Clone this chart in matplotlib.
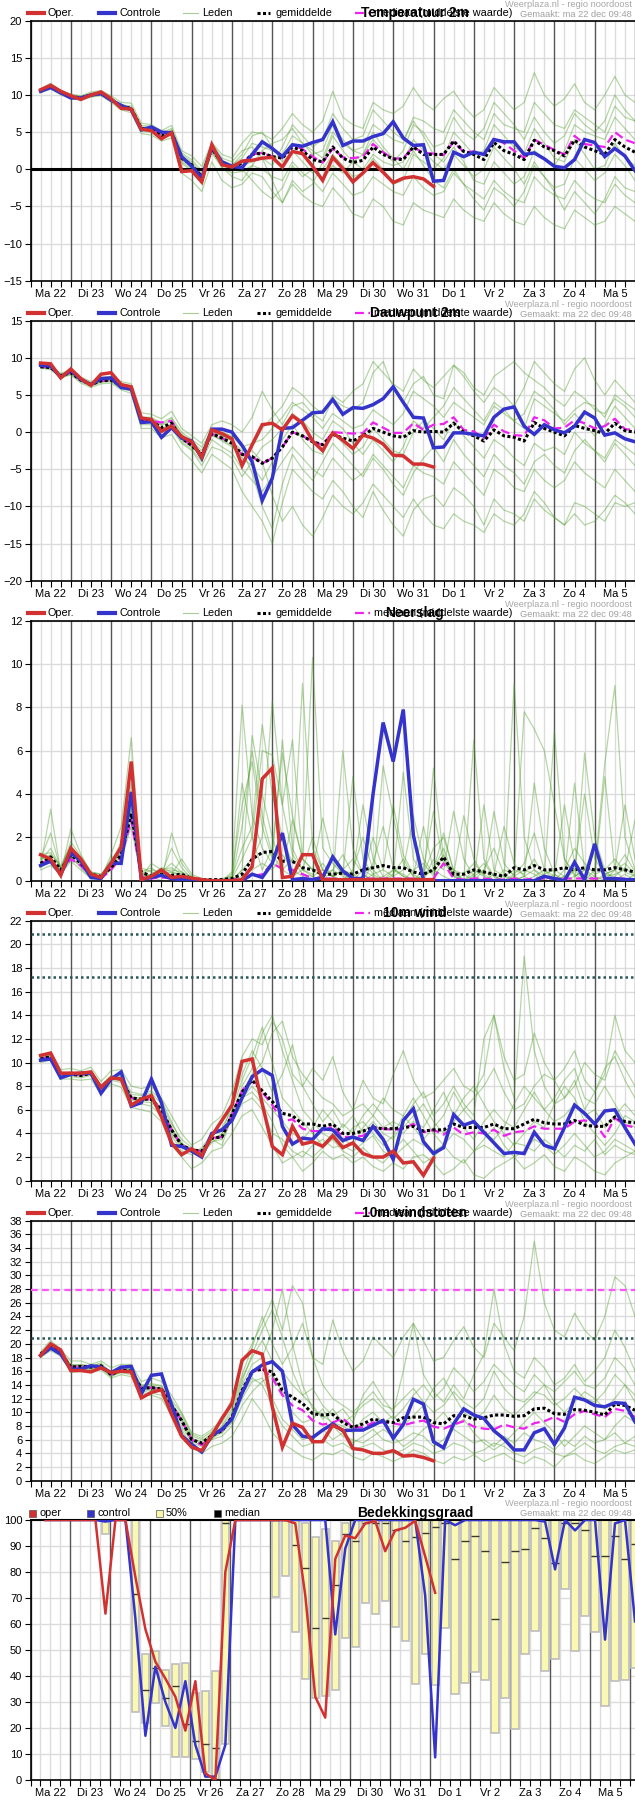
"""
    Weerplaza pluim (ensemble) voor regio noordoost, 22 dec 09:48
"""

import matplotlib
matplotlib.use("Agg")
import matplotlib.pyplot as plt
from matplotlib.lines import Line2D
from matplotlib.patches import Rectangle
import numpy as np


W, H = 635, 1800
plt.rcParams['font.family'] = ['Liberation Sans', 'DejaVu Sans']

DAYS = ['Ma 22', 'Di 23', 'Wo 24', 'Do 25', 'Vr 26', 'Za 27', 'Zo 28', 'Ma 29',
        'Di 30', 'Wo 31', 'Do 1', 'Vr 2', 'Za 3', 'Zo 4', 'Ma 5']

# uren sinds ma 22 00:00, stap 6 uur
T = 6 + 6 * np.arange(60)
T_CLOUD = 9 + 6 * np.arange(60)

# ---------------- temperatuur 2m
temp_oper = [10.7, 11.3, 10.5, 9.9, 9.4, 10.0, 10.4, 9.5, 8.2, 8.1, 5.4, 5.2, 4.1, 4.9, -0.3, -0.2, -1.7, 3.3, 0.6, 0.3,
             1.1, 1.2, 1.5, 1.6, 0.3, 2.4, 2.1, 0.4, -1.5, 1.6, 0.1, -1.7, -0.5, 0.9, -0.4, -1.8, -1.2, -1.0, -1.3, -2.3]
temp_ctrl = [10.5, 11.0, 10.3, 9.6, 9.6, 10.0, 10.2, 9.3, 8.6, 8.0, 5.3, 5.7, 5.0, 4.9, 1.7, 0.4, -1.2, 3.0, 1.0, 0.4,
             0.2, 2.0, 3.7, 2.8, 1.7, 3.3, 3.1, 3.6, 4.0, 6.4, 3.2, 3.8, 3.8, 4.4, 4.8, 6.4, 4.2, 3.2, 3.3, -1.6,
             -1.5, 2.3, 1.7, 2.3, 2.0, 4.0, 3.7, 3.7, 2.0, 2.2, 1.4, 0.4, 0.2, 1.3, 4.0, 3.6, 1.7, 2.8, 1.8, -0.2]
temp_mean = [10.5, 11.1, 10.3, 9.8, 9.6, 10.0, 10.2, 9.4, 8.5, 8.2, 5.5, 5.4, 4.5, 5.0, 1.5, 0.6, -1.0, 2.8, 0.8, 0.3,
             0.8, 2.0, 2.2, 1.7, 1.5, 3.0, 2.5, 1.3, 1.0, 3.0, 1.5, 0.9, 1.2, 3.0, 2.0, 1.4, 1.3, 3.0, 2.0, 2.0,
             2.0, 3.8, 2.4, 2.0, 1.3, 3.6, 2.5, 2.0, 1.3, 3.9, 3.0, 2.5, 1.8, 3.9, 3.0, 2.5, 2.0, 4.0, 3.0, 2.3]
temp_median = [10.5, 11.1, 10.3, 9.8, 9.6, 10.0, 10.2, 9.4, 8.5, 8.2, 5.5, 5.4, 4.5, 5.0, 1.5, 0.6, -1.0, 2.8, 0.8, 0.3,
               0.8, 2.0, 2.2, 1.7, 1.5, 3.3, 2.7, 1.7, 0.9, 2.8, 1.6, 1.5, 1.7, 3.4, 2.3, 1.4, 1.5, 3.0, 2.2, 2.1,
               1.9, 3.7, 2.3, 2.4, 2.0, 4.2, 3.5, 2.5, 1.5, 4.0, 3.3, 2.6, 2.0, 4.5, 3.4, 3.2, 3.0, 5.0, 4.0, 3.5]
temp_leden = [
    [10.8, 11.6, 10.6, 10.1, 9.9, 10.4, 10.6, 9.9, 9.0, 8.9, 6.2, 6.0, 5.2, 5.9, 2.5, 1.8, 0.4, 3.6, 2.0, 1.5,
     3.5, 5.0, 4.8, 4.0, 5.5, 7.5, 6.0, 5.0, 6.5, 10.5, 7.0, 6.0, 5.5, 9.0, 8.0, 7.5, 8.5, 11.0, 9.0, 8.0,
     9.5, 10.5, 8.5, 7.0, 8.0, 11.0, 9.5, 8.0, 9.0, 13.0, 10.0, 8.5, 9.5, 11.5, 9.0, 8.0, 10.0, 12.5, 10.0, 9.0],
    [10.3, 10.8, 10.0, 9.5, 9.3, 9.7, 9.9, 9.0, 8.0, 7.6, 4.8, 4.6, 3.8, 4.2, -0.5, -1.5, -3.0, 1.0, -1.5, -2.5,
     -2.0, -0.5, -1.0, -3.0, -4.5, -2.0, -3.5, -4.5, -5.0, -2.5, -4.0, -6.0, -6.5, -4.0, -5.0, -7.0, -7.5, -4.5, -5.5, -6.0,
     -6.5, -4.0, -5.5, -6.5, -7.0, -4.5, -6.0, -7.0, -7.5, -5.0, -6.5, -7.5, -8.0, -5.5, -6.5, -7.5, -7.0, -5.0, -6.0, -7.0],
    [10.6, 11.3, 10.4, 9.9, 9.7, 10.2, 10.4, 9.6, 8.7, 8.5, 5.9, 5.8, 4.9, 5.5, 2.0, 1.0, -0.5, 3.3, 1.2, 0.6,
     1.5, 3.5, 3.0, 2.5, 2.0, 4.5, 3.5, 2.5, 1.5, 5.0, 3.5, 2.5, 3.0, 6.0, 5.0, 4.0, 3.5, 7.0, 6.5, 5.5,
     5.0, 8.0, 6.5, 5.0, 4.0, 7.5, 6.0, 5.5, 5.0, 9.0, 7.5, 6.0, 5.5, 8.0, 7.0, 6.0, 5.0, 8.5, 7.0, 6.5],
    [10.4, 11.0, 10.2, 9.7, 9.5, 9.8, 10.0, 9.2, 8.3, 7.9, 5.1, 5.0, 4.1, 4.6, 0.8, -0.2, -1.8, 2.2, 0.2, -0.5,
     -0.3, 0.5, 0.0, -1.0, -1.5, 1.0, -0.5, -1.5, -3.0, -0.5, -2.0, -3.5, -3.0, -1.0, -2.0, -3.0, -3.5, -1.0, -2.5, -3.5,
     -3.0, -0.5, -2.0, -3.0, -4.0, -1.5, -3.0, -4.0, -4.5, -1.0, -2.5, -3.5, -4.0, -1.5, -3.0, -4.0, -4.5, -2.0, -3.5, -4.5],
    [10.7, 11.4, 10.5, 10.0, 9.8, 10.2, 10.3, 9.5, 8.6, 8.3, 5.6, 5.5, 4.6, 5.2, 1.6, 0.8, -0.8, 3.0, 1.0, 0.5,
     2.0, 4.5, 5.0, 3.0, 1.0, 2.5, 1.0, -0.5, 0.0, 2.0, 0.5, -1.0, -0.5, 1.5, 0.0, -2.0, -1.5, 2.0, 1.0, 0.0,
     1.5, 5.0, 3.5, 2.0, 2.5, 6.0, 4.5, 3.0, 2.0, 5.5, 3.5, 1.5, 1.0, 4.0, 2.0, 0.0, 0.5, 3.5, 1.5, 0.5],
    [10.5, 11.0, 10.3, 9.8, 9.6, 10.1, 10.3, 9.4, 8.4, 8.1, 5.3, 5.2, 4.4, 4.9, 1.2, 0.3, -1.3, 2.6, 0.5, 0.0,
     0.5, 1.0, 1.5, 0.5, 3.0, 6.0, 4.5, 3.0, 4.0, 7.5, 5.5, 4.0, 4.5, 8.0, 6.5, 5.0, 4.0, 6.5, 4.5, 2.0,
     1.0, 3.0, 1.0, -1.5, -2.0, 1.0, -0.5, -2.0, -1.0, 2.5, 1.5, 0.5, 2.5, 6.0, 5.0, 4.5, 4.0, 7.0, 5.5, 4.0],
    [10.6, 11.2, 10.4, 9.9, 9.7, 10.1, 10.3, 9.5, 8.6, 8.3, 5.7, 5.6, 4.7, 5.3, 2.2, 1.3, -0.2, 3.5, 1.5, 1.0,
     2.5, 3.0, 1.5, -1.5, -4.5, -1.5, -3.0, -2.0, 1.0, 4.5, 2.5, 1.0, 2.0, 5.0, 3.0, 1.5, 0.0, 2.5, 0.5, -1.5,
     -2.5, 0.0, -2.0, -4.0, -5.5, -2.5, -3.5, -5.0, -3.0, 0.5, -1.0, -3.0, -5.5, -3.0, -4.5, -6.0, -4.0, -1.0, -2.5, -3.0],
    [10.4, 11.1, 10.2, 9.7, 9.5, 9.9, 10.1, 9.3, 8.4, 8.0, 5.4, 5.3, 4.3, 4.8, 1.0, 0.0, -2.0, 2.4, 0.3, -1.0,
     -1.5, 0.5, 2.5, 3.5, 4.0, 5.5, 3.5, 2.0, 2.5, 6.0, 4.0, 2.5, 2.0, 4.0, 2.5, 1.0, 2.5, 6.0, 5.0, 3.0,
     3.5, 7.0, 5.0, 4.0, 5.5, 9.0, 7.5, 6.0, 4.0, 7.0, 5.0, 3.5, 4.5, 7.5, 6.0, 5.0, 6.5, 10.0, 8.0, 6.5],
    [10.5, 11.0, 10.3, 9.8, 9.6, 10.0, 10.2, 9.4, 8.5, 8.2, 5.5, 5.4, 4.5, 5.0, 1.4, 0.5, -1.2, 2.7, 0.7, 0.2,
     0.0, -1.5, -3.0, -4.0, -2.5, 0.5, -1.0, 0.0, -1.5, 0.5, -0.5, 1.0, 0.0, 2.0, 1.0, 0.5, 1.0, 4.0, 2.5, 1.0,
     0.0, 2.0, 0.5, -1.0, 0.0, 3.0, 1.5, 0.0, -2.0, 1.0, -1.0, -2.5, -2.0, 1.5, 0.0, -1.5, -0.5, 2.0, 0.5, -1.5],
]

# ---------------- dauwpunt 2m
dew_oper = [9.3, 9.2, 7.3, 8.5, 7.2, 6.3, 7.8, 8.0, 6.4, 6.1, 1.9, 1.7, 0.1, 0.8, -0.6, -1.3, -3.4, 0.3, -0.2, -0.9,
            -4.5, -1.7, 1.0, 1.2, 0.3, 2.2, 1.2, -1.2, -2.5, -0.1, -1.1, -2.2, -0.4, -0.8, -1.6, -3.1, -3.2, -4.3, -4.3, -4.7]
dew_ctrl = [9.0, 8.9, 7.4, 8.3, 7.1, 6.4, 7.2, 7.3, 6.0, 5.8, 1.3, 1.4, -0.7, 0.6, -0.8, -1.2, -3.5, 0.4, 0.4, 0.0,
            -1.8, -4.0, -9.2, -6.2, 0.5, 0.6, 1.6, 2.6, 2.7, 4.4, 2.4, 3.3, 3.2, 3.7, 4.5, 6.1, 4.0, 2.0, 1.9, -2.1,
            -2.0, -0.1, -0.1, -0.3, -0.5, 2.0, 3.1, 3.4, 0.8, -0.3, 1.0, 0.3, -0.1, 0.8, 2.7, 1.9, -0.4, -0.1, -0.9, -1.3]
dew_mean = [8.8, 8.7, 7.6, 8.0, 7.0, 6.4, 6.9, 7.0, 6.2, 5.8, 1.6, 1.5, 0.6, 1.2, -0.8, -1.8, -3.0, -0.2, -0.8, -1.5,
            -3.0, -3.3, -4.2, -3.5, -2.0, 0.0, -0.5, -1.3, -1.7, -0.3, -0.8, -1.2, -0.5, 0.5, 0.0, -0.5, -0.7, 0.2, 0.0, 0.1,
            0.0, 1.2, 0.0, -0.5, -1.2, 0.3, -0.5, -0.7, -1.2, 1.3, 0.5, 0.0, -0.5, 0.9, 0.5, 0.2, -0.2, 1.2, 0.2, 0.0]
dew_median = [8.8, 8.7, 7.6, 8.0, 7.0, 6.4, 6.9, 7.0, 6.2, 5.8, 1.6, 1.5, 1.3, 1.5, -0.8, -1.8, -3.0, -0.2, -0.8, -1.5,
              -3.0, -3.3, -4.2, -3.5, -2.0, 0.0, -0.5, -1.3, -1.7, 0.0, -0.1, -0.2, -0.1, 1.3, 0.6, -0.1, -0.1, 1.2, 0.3, 1.0,
              1.1, 2.0, 0.3, 0.1, -0.8, 1.0, 0.1, -0.4, -0.5, 2.0, 1.6, 0.5, 0.6, 1.6, 1.2, 0.5, 0.8, 1.8, 0.4, 0.3]
dew_leden = [
    [9.1, 9.0, 7.9, 8.4, 7.4, 6.8, 7.4, 7.5, 6.8, 6.5, 2.6, 2.4, 1.8, 2.8, 0.5, -0.5, -1.5, 1.0, 1.5, 1.0,
     0.0, 2.0, 5.5, 3.0, 1.0, 3.5, 4.0, 2.5, 1.5, 4.5, 3.5, 3.0, 4.0, 8.0, 9.5, 6.0, 4.0, 6.5, 7.5, 5.0,
     4.5, 9.0, 7.5, 5.5, 4.0, 6.0, 5.0, 3.5, 6.0, 9.5, 8.0, 6.5, 5.5, 8.5, 10.0, 7.0, 5.0, 7.0, 5.5, 4.0],
    [8.6, 8.4, 7.3, 7.7, 6.6, 6.0, 6.5, 6.6, 5.7, 5.2, 0.5, 0.5, -0.8, -0.3, -2.5, -3.8, -5.5, -3.0, -4.0, -5.0,
     -8.0, -10.0, -12.0, -15.0, -9.5, -5.0, -6.5, -8.0, -9.0, -6.5, -8.0, -10.0, -11.5, -8.0, -10.5, -12.5, -14.0, -10.5, -9.0, -8.5,
     -10.0, -7.5, -8.5, -10.0, -12.5, -9.0, -10.5, -11.0, -12.0, -9.0, -10.5, -11.5, -12.5, -9.5, -10.0, -11.0, -12.0, -9.5, -10.0, -9.5],
    [8.9, 8.8, 7.7, 8.1, 7.1, 6.5, 7.0, 7.1, 6.3, 5.9, 1.8, 1.7, 0.9, 1.5, -0.3, -1.2, -2.5, 0.5, 0.0, -0.5,
     -2.0, -1.5, -1.0, 0.5, 2.0, 4.0, 3.0, 2.0, 0.5, 2.5, 1.5, 0.5, 1.0, 3.0, 2.0, 1.0, 2.5, 5.5, 4.5, 3.5,
     2.0, 4.0, 3.0, 2.0, 1.0, 3.5, 2.5, 1.5, 0.5, 4.5, 3.5, 2.5, 1.5, 3.0, 4.0, 3.5, 2.0, 5.0, 4.0, 3.0],
    [8.7, 8.6, 7.5, 7.9, 6.9, 6.3, 6.8, 6.9, 6.0, 5.6, 1.2, 1.2, 0.2, 0.8, -1.3, -2.3, -4.0, -1.0, -2.0, -2.8,
     -5.0, -6.5, -8.0, -6.0, -4.0, -2.0, -3.5, -5.0, -6.0, -3.5, -5.0, -6.5, -5.5, -3.0, -4.5, -6.0, -7.5, -4.5, -5.5, -6.0,
     -7.0, -4.0, -5.5, -7.0, -8.5, -5.0, -6.0, -7.5, -8.0, -5.0, -6.5, -7.5, -6.5, -4.0, -5.5, -6.5, -7.5, -5.0, -6.5, -8.0],
    [9.0, 8.9, 7.8, 8.2, 7.2, 6.6, 7.2, 7.3, 6.5, 6.1, 2.0, 2.0, 1.2, 2.0, 0.0, -1.0, -2.0, 0.3, -0.5, -1.0,
     -3.5, -4.5, -6.5, -4.0, -1.0, 1.0, -1.0, -2.5, -3.0, 0.0, -1.5, -3.0, -2.0, 0.5, -1.0, -2.5, -3.0, 0.0, 1.5, 0.5,
     -1.0, 1.5, -0.5, -2.0, -3.5, -1.0, -2.0, -3.5, -4.5, -1.5, -2.5, -2.0, -3.0, 0.0, -1.5, -2.5, -3.5, -1.0, -2.0, -3.0],
    [8.8, 8.7, 7.6, 8.0, 7.0, 6.4, 6.9, 7.0, 6.2, 5.8, 1.5, 1.4, 0.5, 1.0, -1.0, -2.0, -3.3, -0.5, -1.0, -1.8,
     -4.0, -2.0, 0.5, 2.0, 3.5, 6.0, 5.0, 3.5, 2.5, 5.0, 4.0, 5.5, 6.5, 9.5, 8.0, 6.5, 5.5, 8.5, 7.0, 6.0,
     7.5, 9.0, 8.0, 6.0, 5.0, 7.5, 8.5, 9.5, 8.0, 7.0, 6.0, 4.5, 3.5, 5.5, 4.5, 3.0, 2.5, 4.5, 3.5, 2.0],
    [9.0, 8.8, 7.7, 8.1, 7.1, 6.5, 7.0, 7.2, 6.3, 6.0, 1.9, 1.8, 1.0, 1.8, -0.5, -1.5, -2.8, 0.0, -0.5, -1.2,
     -2.5, -5.5, -10.0, -13.0, -7.0, -3.0, -5.0, -6.5, -4.0, -1.5, -3.0, -4.5, -6.0, -3.5, -5.0, -7.0, -8.5, -5.5, -3.5, -2.0,
     -4.0, -1.0, -3.0, -4.5, -6.0, -3.0, -4.5, -5.5, -7.0, -4.0, -3.0, -4.5, -5.5, -2.5, -1.0, -2.5, -4.0, -1.5, -3.0, -4.5],
    [8.7, 8.5, 7.4, 7.8, 6.8, 6.2, 6.7, 6.8, 5.9, 5.5, 1.0, 1.0, 0.0, 0.5, -1.5, -2.5, -4.5, -2.0, -2.5, -3.5,
     -6.0, -4.0, -2.0, -1.0, 0.5, 2.5, 1.5, 0.0, -1.0, 1.5, 0.5, -1.5, -3.0, -1.0, -2.5, -4.0, -2.0, 1.5, 0.5, 2.0,
     3.5, 6.0, 4.5, 3.0, 1.5, 4.0, 3.0, 1.5, 2.5, 5.5, 4.5, 3.0, 1.0, 2.5, 1.0, -0.5, 1.0, 3.5, 2.0, 0.5],
    [8.9, 8.7, 7.6, 8.0, 7.0, 6.4, 6.9, 7.0, 6.1, 5.8, 1.4, 1.3, 0.4, 1.1, -0.9, -2.0, -3.2, -0.3, -1.2, -2.0,
     -3.0, -2.5, -4.0, -8.5, -12.0, -10.0, -12.5, -14.0, -11.5, -8.5, -10.0, -11.0, -9.5, -7.0, -8.5, -10.0, -11.5, -9.0, -11.0, -12.5,
     -13.0, -11.0, -12.0, -12.5, -13.5, -11.0, -12.0, -12.5, -11.0, -8.0, -9.5, -11.5, -12.5, -11.0, -12.5, -12.0, -10.5, -8.5, -9.5, -11.0],
]

# ---------------- neerslag
rain_oper = [1.2, 1.0, 0.25, 1.5, 1.0, 0.3, 0.15, 0.8, 1.55, 5.5, 0.05, 0.2, 0.5, 0.15, 0.2, 0.12, 0.05, 0.0, 0.0, 0.0,
             0.05, 0.65, 4.7, 5.2, 0.15, 0.2, 1.2, 1.2, 0.05, 0.05, 0.05, 0.05, 0.05, 0.05, 0.05, 0.05, 0.05, 0.05, 0.05, 0.05]
rain_ctrl = [0.7, 0.9, 0.3, 1.3, 0.9, 0.15, 0.1, 0.8, 0.8, 4.1, 0.05, 0.15, 0.25, 0.1, 0.05, 0.05, 0.0, 0.0, 0.0, 0.0,
             0.0, 0.3, 0.15, 0.8, 2.2, 0.05, 0.1, 0.05, 0.15, 1.1, 0.45, 0.1, 0.1, 4.0, 7.3, 5.5, 7.9, 2.1, 0.05, 0.0,
             0.0, 0.0, 0.0, 0.0, 0.0, 0.0, 0.0, 0.0, 0.0, 0.0, 0.2, 0.1, 0.0, 0.85, 0.05, 1.7, 0.1, 0.1, 0.05, 0.05]
rain_mean = [0.8, 1.1, 0.5, 1.2, 0.8, 0.3, 0.2, 0.6, 1.2, 3.1, 0.4, 0.2, 0.3, 0.25, 0.3, 0.1, 0.05, 0.05, 0.05, 0.1,
             0.3, 1.0, 1.3, 1.35, 0.9, 0.9, 0.6, 0.5, 0.3, 0.3, 0.35, 0.3, 0.5, 0.6, 0.7, 0.6, 0.6, 0.4, 0.3, 0.5,
             1.1, 0.3, 0.3, 0.5, 0.4, 0.3, 0.2, 0.6, 0.5, 0.7, 0.5, 0.5, 0.6, 0.5, 0.6, 0.5, 0.5, 0.6, 0.5, 0.4]
rain_median = [0.8, 1.0, 0.4, 1.0, 0.7, 0.2, 0.1, 0.5, 1.1, 2.8, 0.2, 0.1, 0.15, 0.1, 0.1, 0.05, 0.0, 0.0, 0.0, 0.05,
               0.1, 0.2, 0.3, 0.8, 0.55, 0.5, 0.3, 0.1, 0.1, 0.1, 0.05, 0.05, 0.1, 0.1, 0.1, 0.1, 0.1, 0.1, 0.05, 0.1,
               0.8, 0.1, 0.05, 0.1, 0.1, 0.05, 0.05, 0.1, 0.05, 0.1, 0.1, 0.1, 0.1, 0.1, 0.1, 0.1, 0.1, 0.1, 0.1, 0.05]
rain_leden = [
    [0.9, 1.5, 0.6, 1.4, 0.9, 0.3, 0.2, 0.8, 1.8, 4.0, 0.6, 0.4, 0.3, 1.5, 0.6, 0.1, 0.0, 0.0, 0.0, 0.4,
     8.1, 3.0, 1.5, 0.8, 0.5, 1.0, 0.3, 0.2, 0.0, 0.5, 1.2, 0.3, 0.0, 0.8, 2.5, 0.6, 0.2, 0.0, 0.3, 1.5,
     2.0, 0.5, 0.0, 0.3, 0.8, 0.2, 0.0, 9.1, 2.0, 0.5, 0.2, 0.0, 0.5, 1.5, 0.8, 0.3, 0.5, 1.0, 0.4, 0.2],
    [0.7, 3.3, 0.4, 1.0, 0.7, 0.2, 0.1, 1.2, 2.5, 6.6, 0.2, 0.8, 0.5, 0.6, 0.3, 0.0, 0.0, 0.0, 0.1, 0.2,
     1.5, 2.5, 7.2, 4.0, 2.0, 0.8, 9.1, 1.5, 0.5, 0.2, 0.0, 0.5, 2.0, 0.5, 0.0, 0.2, 5.0, 1.0, 0.3, 0.5,
     1.5, 0.2, 0.0, 6.5, 1.0, 0.2, 0.0, 0.3, 7.8, 7.0, 6.0, 3.5, 1.0, 0.2, 0.5, 1.5, 0.3, 0.5, 1.2, 0.4],
    [1.1, 0.8, 0.3, 2.4, 1.2, 0.4, 0.3, 0.5, 1.0, 3.5, 0.3, 0.2, 0.0, 2.2, 0.8, 0.2, 0.0, 0.0, 0.0, 0.0,
     0.5, 1.0, 2.0, 8.3, 3.5, 6.5, 1.0, 0.5, 0.2, 0.0, 6.0, 1.5, 0.3, 0.0, 5.3, 3.0, 0.8, 0.2, 0.0, 5.2,
     1.0, 0.3, 0.0, 0.2, 0.5, 0.0, 0.2, 0.5, 0.3, 1.0, 0.2, 6.9, 1.0, 0.3, 0.0, 0.5, 5.4, 9.0, 2.0, 0.5],
    [0.6, 1.0, 0.2, 1.1, 0.6, 0.1, 0.1, 0.6, 1.2, 2.8, 0.1, 0.3, 0.6, 0.4, 0.2, 0.1, 0.0, 0.0, 0.0, 0.1,
     2.5, 6.0, 3.0, 1.2, 0.5, 2.8, 1.0, 10.3, 1.5, 0.8, 0.3, 4.8, 1.0, 0.3, 0.0, 0.5, 0.2, 0.0, 0.2, 0.5,
     2.2, 0.4, 0.0, 0.0, 3.5, 0.5, 0.2, 0.0, 0.2, 0.0, 0.3, 0.5, 0.2, 0.0, 5.9, 2.0, 0.5, 0.0, 0.3, 0.0],
    [1.0, 1.2, 0.7, 1.6, 1.0, 0.3, 0.2, 1.0, 1.5, 3.0, 0.4, 0.6, 0.2, 0.3, 1.0, 0.3, 0.1, 0.0, 0.0, 0.0,
     0.2, 0.5, 0.8, 0.5, 1.2, 0.5, 0.2, 0.0, 0.3, 0.5, 0.2, 0.0, 0.0, 0.3, 0.5, 0.2, 0.5, 3.0, 1.0, 0.3,
     1.2, 0.2, 0.0, 0.5, 0.2, 3.2, 0.8, 0.2, 0.0, 0.2, 0.5, 0.0, 0.2, 0.5, 0.0, 0.2, 0.0, 0.5, 3.5, 1.0],
    [0.8, 0.9, 0.5, 1.2, 0.8, 0.2, 0.2, 0.7, 1.4, 3.3, 0.2, 0.2, 0.4, 0.5, 0.4, 0.0, 0.0, 0.0, 0.0, 0.3,
     3.5, 5.5, 2.5, 1.0, 6.5, 1.5, 0.5, 0.3, 0.8, 0.2, 0.5, 0.3, 3.5, 1.0, 0.2, 0.0, 0.0, 0.5, 0.8, 0.2,
     0.8, 0.3, 3.0, 1.0, 0.2, 0.0, 0.0, 0.2, 0.5, 0.3, 0.0, 0.0, 0.2, 4.5, 0.5, 0.0, 0.2, 0.3, 0.5, 2.8],
    [1.0, 2.2, 0.5, 1.8, 1.1, 0.4, 0.3, 0.9, 1.6, 4.5, 0.3, 0.5, 0.4, 0.8, 0.4, 0.2, 0.0, 0.0, 0.0, 0.2,
     4.5, 2.0, 0.5, 1.5, 5.9, 3.0, 1.0, 0.5, 2.9, 1.0, 0.3, 0.0, 0.2, 2.0, 0.5, 3.5, 1.2, 0.3, 0.0, 1.0,
     0.5, 3.2, 1.0, 0.2, 0.0, 0.3, 2.5, 0.8, 0.2, 4.5, 1.5, 0.3, 0.0, 0.5, 4.0, 1.0, 0.3, 0.5, 0.8, 0.3],
    [0.5, 0.7, 0.3, 0.9, 0.5, 0.1, 0.1, 0.5, 1.0, 2.5, 0.1, 0.1, 0.2, 0.2, 0.1, 0.0, 0.0, 0.0, 0.0, 0.0,
     0.5, 6.7, 4.0, 2.0, 0.5, 0.2, 0.5, 2.0, 0.5, 0.2, 0.0, 0.0, 0.5, 0.2, 0.0, 0.3, 1.0, 0.2, 2.5, 0.5,
     0.2, 0.0, 0.3, 0.0, 0.5, 1.5, 0.3, 0.0, 0.2, 0.5, 0.0, 0.3, 0.0, 0.2, 0.5, 0.2, 4.8, 0.5, 0.0, 0.3],
    [1.2, 1.3, 0.6, 1.5, 0.9, 0.3, 0.2, 0.7, 1.3, 3.8, 0.2, 0.3, 0.3, 0.4, 0.3, 0.1, 0.0, 0.0, 0.0, 0.1,
     1.0, 2.0, 6.0, 5.8, 3.5, 1.2, 0.5, 0.2, 0.5, 0.2, 0.5, 1.0, 0.3, 0.0, 0.2, 0.5, 0.3, 0.0, 0.5, 3.2,
     0.8, 0.5, 0.3, 0.8, 0.3, 0.0, 0.5, 0.3, 0.8, 2.2, 0.5, 0.2, 3.5, 0.8, 0.2, 0.0, 0.3, 0.2, 0.6, 0.2],
]

# ---------------- 10m wind
wind_oper = [10.6, 10.8, 9.1, 9.1, 9.1, 9.2, 7.9, 8.7, 8.6, 6.4, 6.9, 7.2, 5.4, 3.2, 2.2, 2.7, 2.1, 3.8, 5.1, 6.4,
             10.1, 10.3, 6.5, 2.9, 2.2, 4.6, 3.1, 3.3, 2.9, 3.8, 2.8, 3.2, 2.3, 2.0, 2.0, 2.5, 1.5, 1.6, 0.45, 1.9]
wind_ctrl = [10.2, 10.3, 8.7, 9.0, 9.1, 9.1, 7.4, 8.6, 9.2, 6.3, 6.6, 8.6, 6.6, 3.0, 2.9, 2.5, 2.0, 4.0, 4.3, 5.1,
             7.0, 8.8, 9.4, 8.9, 4.6, 3.1, 3.6, 3.5, 4.4, 4.3, 3.4, 3.7, 3.4, 4.6, 3.5, 1.8, 5.1, 6.1, 3.3, 2.3,
             2.8, 5.6, 4.7, 5.0, 4.1, 3.2, 2.3, 2.4, 2.3, 4.1, 3.0, 2.7, 4.5, 6.4, 5.7, 4.8, 5.9, 6.0, 4.5, 3.1]
wind_mean = [10.3, 10.5, 9.0, 9.0, 8.9, 9.1, 7.9, 8.7, 8.6, 7.0, 6.9, 6.9, 6.0, 4.3, 3.0, 2.6, 2.5, 3.6, 3.7, 5.6,
             7.5, 8.5, 7.6, 6.7, 5.7, 5.5, 4.8, 4.8, 4.6, 4.8, 4.0, 4.0, 4.2, 4.5, 4.4, 4.4, 4.5, 4.6, 4.2, 4.3,
             4.3, 4.8, 4.5, 4.5, 4.5, 4.8, 4.4, 4.4, 4.8, 5.2, 4.9, 4.8, 4.8, 5.1, 4.7, 4.6, 4.6, 5.4, 5.0, 4.9]
wind_median = [10.3, 10.5, 9.0, 9.0, 8.9, 9.1, 7.9, 8.7, 8.6, 7.0, 6.9, 6.9, 6.0, 4.3, 3.0, 2.6, 2.5, 3.6, 3.7, 5.6,
               7.6, 8.7, 7.5, 6.4, 5.0, 5.2, 4.4, 4.2, 4.2, 4.6, 3.7, 3.7, 3.8, 4.5, 4.4, 4.3, 4.4, 4.8, 4.1, 4.3,
               3.9, 4.5, 3.9, 4.1, 4.0, 4.3, 3.8, 4.1, 4.2, 4.6, 4.4, 4.4, 4.4, 5.0, 5.1, 4.9, 3.7, 5.3, 4.7, 4.5]
wind_leden = [
    [10.6, 10.9, 9.4, 9.5, 9.3, 9.6, 8.4, 9.3, 9.4, 8.0, 7.8, 8.0, 7.0, 5.5, 4.0, 3.0, 3.5, 4.8, 5.5, 7.5,
     10.5, 12.0, 11.5, 13.5, 12.0, 9.0, 8.0, 9.5, 8.5, 10.5, 7.5, 6.0, 8.5, 7.0, 6.5, 9.0, 11.0, 8.5, 7.0, 7.5,
     8.5, 9.5, 8.0, 7.5, 9.0, 14.0, 10.5, 8.5, 9.0, 12.5, 10.0, 8.5, 9.5, 11.0, 8.5, 7.5, 9.0, 14.0, 11.0, 10.0],
    [10.0, 10.2, 8.6, 8.6, 8.5, 8.6, 7.3, 8.2, 7.9, 6.2, 6.0, 5.8, 5.0, 3.0, 2.0, 1.0, 1.5, 2.5, 2.8, 4.0,
     5.5, 6.0, 4.5, 3.0, 1.5, 2.0, 0.8, 1.5, 2.5, 1.8, 2.2, 1.5, 2.0, 1.2, 0.8, 1.5, 1.0, 2.0, 2.2, 1.5,
     0.5, 1.0, 1.8, 0.5, 0.2, 1.0, 1.5, 2.0, 1.0, 1.5, 2.2, 1.2, 0.8, 2.0, 1.5, 0.8, 0.5, 1.5, 2.0, 2.5],
    [10.4, 10.6, 9.1, 9.2, 9.0, 9.3, 8.1, 8.9, 8.8, 7.3, 7.2, 7.4, 6.5, 4.8, 3.5, 2.8, 2.3, 3.2, 4.0, 6.5,
     9.0, 11.0, 9.5, 7.5, 9.0, 11.5, 8.0, 6.5, 5.0, 6.0, 4.5, 5.5, 4.0, 5.0, 4.0, 3.5, 5.0, 6.5, 7.5, 5.5,
     6.5, 8.0, 6.5, 5.5, 12.0, 14.0, 9.5, 7.0, 19.0, 11.0, 8.0, 6.5, 7.0, 8.5, 6.0, 7.5, 9.5, 10.5, 8.5, 7.0],
    [10.2, 10.3, 8.8, 8.8, 8.7, 8.9, 7.6, 8.5, 8.3, 6.6, 6.5, 6.3, 5.5, 3.8, 2.5, 2.2, 2.8, 4.0, 4.2, 5.0,
     6.5, 7.0, 6.0, 4.0, 3.5, 2.5, 2.0, 3.0, 3.5, 2.8, 3.0, 2.5, 3.2, 3.8, 2.5, 2.0, 2.8, 3.5, 3.0, 2.5,
     3.0, 4.0, 3.5, 2.5, 3.0, 2.5, 2.0, 3.2, 3.0, 2.5, 3.5, 2.8, 2.0, 3.0, 2.5, 3.5, 2.2, 3.0, 2.5, 2.2],
    [10.5, 10.7, 9.2, 9.0, 9.1, 9.2, 8.0, 8.8, 8.9, 7.5, 7.3, 7.6, 6.8, 5.0, 3.2, 2.5, 2.0, 3.5, 3.0, 5.5,
     8.0, 9.5, 12.5, 14.0, 11.0, 8.5, 6.0, 5.0, 4.0, 3.5, 4.8, 4.0, 5.5, 6.5, 5.5, 4.5, 4.0, 5.0, 4.5, 6.0,
     7.5, 5.5, 4.5, 3.5, 5.0, 6.0, 5.0, 4.5, 6.0, 7.5, 6.0, 5.0, 5.5, 6.5, 5.5, 6.0, 4.5, 5.5, 6.5, 5.5],
    [10.1, 10.4, 8.9, 9.0, 8.8, 9.0, 7.8, 8.6, 8.5, 6.8, 6.7, 6.6, 5.8, 4.0, 2.8, 2.6, 2.4, 3.3, 3.5, 5.2,
     7.0, 8.0, 7.0, 6.0, 5.0, 4.0, 3.5, 4.5, 6.0, 5.0, 3.5, 3.0, 4.5, 5.5, 7.0, 6.0, 5.5, 7.0, 5.5, 4.0,
     3.0, 5.5, 7.0, 8.0, 6.5, 5.0, 4.0, 3.0, 4.0, 5.0, 4.5, 6.5, 8.0, 7.0, 5.0, 4.0, 3.0, 4.0, 5.5, 5.0],
    [10.3, 10.6, 9.0, 9.1, 8.9, 9.0, 7.9, 8.7, 8.7, 7.1, 7.0, 7.0, 6.2, 4.5, 3.0, 2.4, 2.6, 3.8, 4.5, 6.0,
     8.5, 10.5, 13.0, 10.0, 7.0, 6.0, 5.0, 4.0, 3.0, 4.0, 3.2, 4.5, 5.0, 4.0, 3.0, 3.8, 5.5, 4.5, 3.5, 4.5,
     5.5, 7.5, 6.0, 5.0, 4.0, 3.5, 4.5, 6.5, 8.0, 7.0, 6.0, 7.0, 8.5, 9.5, 7.0, 6.5, 8.0, 6.5, 5.0, 4.5],
    [10.4, 10.5, 9.0, 8.9, 9.0, 9.1, 7.8, 8.6, 8.6, 6.9, 6.8, 6.8, 6.0, 4.2, 3.0, 2.7, 2.6, 3.7, 3.6, 5.4,
     7.0, 7.5, 6.5, 5.0, 3.0, 2.0, 2.5, 2.0, 2.8, 3.5, 2.5, 2.0, 2.8, 2.0, 1.5, 2.5, 3.5, 2.5, 1.5, 2.0,
     3.0, 2.0, 1.5, 2.5, 3.5, 4.5, 3.0, 2.0, 2.5, 3.5, 3.0, 2.2, 3.0, 4.0, 3.0, 2.0, 2.5, 3.5, 3.0, 2.5],
    [10.2, 10.4, 8.9, 9.0, 8.9, 9.0, 7.9, 8.7, 8.6, 7.0, 6.9, 6.9, 6.1, 4.4, 3.1, 2.7, 2.5, 3.6, 3.9, 5.8,
     7.5, 9.0, 10.0, 12.5, 13.5, 10.5, 9.0, 8.0, 7.0, 6.5, 5.5, 6.0, 6.5, 5.5, 4.5, 5.0, 4.5, 5.5, 6.5, 5.0,
     4.0, 5.0, 6.0, 7.0, 8.0, 9.5, 7.5, 6.0, 6.5, 8.0, 9.0, 8.5, 7.0, 8.0, 10.0, 9.0, 8.5, 11.0, 9.5, 8.0],
]

# ---------------- 10m windstoten
gust_oper = [18.3, 20.0, 19.1, 16.1, 16.1, 15.9, 16.5, 15.8, 16.0, 15.9, 12.1, 12.9, 13.3, 9.7, 6.5, 4.9, 4.4, 6.6, 9.1, 11.3,
             17.6, 19.0, 18.5, 10.8, 4.9, 8.4, 7.8, 5.7, 5.7, 8.1, 7.4, 4.7, 4.5, 4.0, 4.0, 4.4, 3.6, 3.7, 3.4, 2.9]
gust_ctrl = [18.3, 19.4, 18.5, 16.3, 16.3, 16.8, 16.6, 15.8, 16.6, 16.7, 12.7, 15.4, 15.6, 11.1, 6.6, 5.3, 4.2, 6.6, 7.5, 9.0,
             12.8, 15.9, 16.9, 17.4, 16.0, 8.2, 6.5, 6.3, 7.4, 8.3, 7.3, 7.4, 7.4, 8.1, 8.8, 6.2, 8.2, 11.9, 11.2, 5.7,
             4.8, 8.3, 10.5, 9.6, 9.1, 7.3, 6.1, 4.5, 4.5, 7.0, 7.6, 5.3, 7.7, 12.2, 11.8, 11.0, 10.8, 11.4, 11.3, 8.6]
gust_mean = [18.5, 19.6, 18.7, 16.6, 16.7, 16.6, 16.8, 15.5, 16.2, 16.0, 13.5, 13.6, 13.4, 11.0, 8.8, 6.0, 5.5, 6.6, 7.3, 9.3,
             13.2, 16.0, 16.3, 15.9, 13.2, 12.2, 11.3, 9.8, 9.6, 9.7, 8.5, 7.8, 8.3, 9.0, 8.7, 8.5, 9.2, 9.3, 9.3, 8.5,
             8.3, 9.5, 9.5, 9.0, 9.2, 9.6, 9.6, 9.4, 9.5, 10.5, 10.6, 9.8, 9.7, 10.4, 10.3, 10.0, 9.6, 11.2, 11.0, 10.3]
gust_median = [18.5, 19.6, 18.7, 16.6, 16.7, 16.6, 16.8, 15.5, 16.2, 16.0, 13.5, 13.6, 13.4, 11.0, 8.8, 6.0, 5.2, 6.6, 7.3, 9.3,
               13.2, 16.0, 16.3, 15.0, 12.5, 11.0, 10.3, 8.8, 8.2, 8.5, 9.1, 7.8, 7.8, 8.5, 8.5, 8.4, 8.1, 8.5, 8.8, 7.9,
               7.6, 8.2, 8.7, 7.9, 7.6, 7.5, 8.2, 7.8, 7.6, 8.4, 8.7, 9.3, 8.6, 9.7, 10.2, 9.7, 9.3, 10.5, 10.2, 9.3]
gust_leden = [
    [18.8, 20.5, 19.2, 17.5, 17.5, 17.0, 17.5, 16.5, 17.0, 17.0, 14.5, 15.0, 14.5, 12.5, 10.0, 7.0, 6.5, 7.5, 9.0, 12.0,
     17.0, 20.0, 23.0, 26.5, 22.0, 28.5, 26.0, 18.0, 17.0, 23.5, 19.0, 16.0, 17.5, 21.0, 19.5, 18.0, 21.0, 23.0, 20.5, 17.5,
     18.0, 20.5, 22.5, 19.5, 18.0, 23.0, 21.0, 19.0, 24.0, 35.0, 26.0, 22.0, 21.0, 24.5, 22.0, 20.5, 24.0, 29.8, 28.5, 24.0],
    [18.0, 19.0, 18.2, 15.8, 16.0, 16.0, 16.2, 15.0, 15.5, 15.2, 12.5, 12.5, 12.0, 9.5, 7.0, 4.8, 4.0, 5.0, 5.5, 6.5,
     9.0, 12.0, 10.0, 7.0, 5.5, 4.5, 3.5, 3.0, 4.0, 3.8, 4.5, 3.5, 3.0, 4.0, 3.5, 2.8, 3.5, 4.5, 4.0, 3.0,
     2.5, 3.5, 3.0, 3.8, 2.8, 3.5, 4.0, 3.0, 2.5, 3.5, 3.0, 2.0, 3.5, 4.0, 3.0, 2.5, 3.5, 4.5, 4.0, 4.5],
    [18.6, 20.0, 19.0, 16.8, 17.0, 16.8, 17.2, 15.8, 16.5, 16.3, 14.0, 14.0, 13.8, 11.5, 9.0, 6.0, 5.5, 6.0, 8.0, 10.5,
     15.0, 18.0, 20.5, 17.5, 16.0, 14.0, 12.5, 13.5, 11.0, 9.5, 10.5, 8.5, 12.5, 14.5, 12.0, 10.0, 16.0, 23.0, 15.5, 13.0,
     11.5, 14.0, 12.0, 15.5, 18.5, 28.0, 20.0, 16.0, 15.0, 18.0, 16.5, 14.0, 15.0, 17.0, 14.5, 16.0, 18.0, 22.0, 19.5, 16.0],
    [18.4, 19.5, 18.5, 16.3, 16.5, 16.3, 16.5, 15.2, 16.0, 15.8, 13.0, 13.2, 13.0, 10.5, 8.0, 5.5, 5.0, 7.0, 7.0, 8.5,
     12.0, 14.5, 15.0, 12.0, 9.0, 7.5, 6.0, 6.5, 7.5, 6.0, 7.0, 5.5, 6.5, 7.5, 6.0, 5.5, 6.0, 7.0, 6.5, 5.0,
     6.0, 7.5, 6.5, 5.5, 6.0, 5.0, 6.5, 5.5, 7.0, 6.0, 5.5, 4.5, 6.0, 5.0, 6.5, 5.5, 6.0, 7.0, 5.5, 6.5],
    [18.5, 19.8, 18.8, 17.0, 16.8, 16.6, 16.9, 15.6, 16.3, 16.2, 13.8, 13.8, 13.5, 11.0, 9.5, 6.5, 6.0, 6.5, 7.5, 9.5,
     14.0, 17.0, 18.0, 22.0, 28.0, 20.0, 14.0, 10.5, 9.5, 8.5, 8.0, 7.0, 9.0, 10.0, 8.5, 9.5, 8.0, 9.5, 11.0, 13.5,
     15.0, 12.5, 10.0, 9.0, 10.0, 12.5, 10.5, 9.5, 11.0, 12.5, 14.0, 11.5, 10.0, 11.5, 13.0, 12.0, 10.5, 12.0, 14.0, 11.5],
    [18.2, 19.2, 18.4, 16.0, 16.2, 16.2, 16.4, 15.3, 15.8, 15.5, 12.8, 12.8, 12.5, 10.0, 7.5, 5.0, 4.5, 6.0, 6.5, 8.0,
     11.0, 13.0, 14.5, 15.5, 13.0, 10.0, 8.5, 9.0, 10.5, 8.0, 6.5, 6.0, 5.5, 6.5, 7.5, 6.5, 5.0, 6.0, 7.5, 8.5,
     10.0, 8.0, 9.0, 7.0, 5.5, 4.5, 5.5, 7.0, 8.5, 10.0, 8.5, 7.0, 5.0, 6.5, 8.0, 7.0, 6.0, 8.0, 9.5, 8.5],
    [18.5, 19.7, 18.8, 16.7, 16.8, 16.7, 16.9, 15.6, 16.3, 16.1, 13.6, 13.7, 13.5, 11.2, 9.0, 6.2, 5.7, 7.0, 7.8, 10.0,
     14.5, 18.5, 22.0, 25.0, 21.0, 16.0, 12.5, 11.0, 9.0, 10.5, 8.5, 9.5, 11.0, 12.0, 10.5, 9.0, 10.5, 12.5, 14.0, 12.0,
     13.5, 16.5, 15.0, 13.0, 14.5, 17.0, 15.5, 14.0, 13.0, 15.5, 14.0, 13.0, 14.5, 16.0, 14.0, 13.5, 15.0, 18.0, 16.5, 14.0],
    [18.3, 19.4, 18.4, 16.4, 16.5, 16.4, 16.6, 15.3, 16.0, 15.8, 13.2, 13.4, 13.2, 10.8, 8.5, 5.8, 5.2, 6.2, 7.0, 9.0,
     12.5, 15.0, 14.0, 11.0, 8.0, 6.5, 5.0, 5.5, 6.0, 5.0, 5.5, 4.5, 5.0, 5.5, 4.5, 4.0, 4.5, 5.5, 5.0, 4.0,
     4.5, 5.5, 5.0, 4.0, 4.5, 5.5, 5.0, 4.0, 3.5, 4.5, 5.0, 4.0, 3.5, 4.5, 5.5, 4.5, 4.0, 5.0, 5.5, 5.0],
    [18.6, 19.9, 18.9, 16.9, 16.9, 16.7, 17.0, 15.7, 16.4, 16.3, 13.9, 14.2, 13.9, 11.8, 9.8, 6.8, 6.2, 7.2, 8.5, 11.0,
     15.5, 19.5, 24.0, 20.0, 17.0, 19.5, 23.0, 18.0, 14.0, 12.0, 11.0, 10.0, 11.5, 13.0, 11.0, 10.5, 12.0, 13.5, 11.5, 10.0,
     11.0, 13.0, 11.5, 10.5, 12.0, 16.0, 13.5, 12.0, 11.5, 13.0, 12.5, 11.0, 12.0, 13.5, 12.0, 11.5, 13.0, 15.5, 14.0, 12.5],
]

# ---------------- bedekkingsgraad (tijden 03/09/15/21 uur)
cloud_oper = [100, 100, 100, 100, 100, 100, 64, 100, 100, 78, 58, 45.5, 39, 32, 19, 38, 2.6, 0, 80, 100,
              100, 100, 100, 100, 100, 98.7, 71, 32, 24, 85, 94, 93, 98.7, 99.6, 88, 96, 97, 99.7, 86, 72]
cloud_ctrl = [100, 100, 100, 100, 100, 100, 99.4, 100, 100, 62, 17, 43.6, 30, 20, 38, 13.5, 1.3, 1.3, 13.5, 100,
              100, 100, 100, 100, 100, 100, 100, 100, 100, 56, 89, 100, 100, 100, 100, 100, 100, 100, 71, 8.7,
              100, 98, 100, 100, 100, 100, 100, 100, 100, 100, 99.4, 81, 100, 96, 100, 100, 54, 98.7, 100, 61]
cloud_p25 = [100, 100, 100, 100, 100, 100, 94.6, 100, 100, 26.3, 21.8, 29.5, 20.6, 9, 8.7, 8, 3.2, 0.5, 13.7, 100,
             100, 100, 100, 70.3, 78.3, 56.8, 38.7, 31.5, 32.2, 34.5, 54.5, 51, 68, 63.7, 68.7, 58.7, 53.3, 36.8, 48.3, 36.4,
             58.3, 33, 37.2, 41.4, 38.3, 17.9, 31.4, 19.5, 48.3, 57.2, 41.9, 46.4, 73.3, 49.5, 63, 56.8, 28.3, 38, 38.3, 43]
cloud_p75 = [100, 100, 100, 100, 100, 100, 100, 100, 100, 100, 48.3, 49.6, 42.3, 44.5, 44.9, 33.3, 34.2, 41.9, 100, 100,
             100, 100, 100, 100, 100, 100, 98.7, 93.6, 96.4, 92.1, 99, 100, 100, 100, 100, 100, 100, 100, 100, 100,
             100, 100, 100, 100, 100, 100, 100, 100, 100, 100, 100, 100, 100, 100, 100, 100, 100, 100, 100, 100]
cloud_med = [100, 100, 100, 100, 100, 100, 100, 100, 100, 71.4, 34.6, 43.2, 31.7, 36.2, 21.5, 15.1, 13.7, 12.2, 99, 100,
             100, 100, 100, 100, 100, 90.3, 81.4, 58.6, 62.2, 74.9, 94.5, 91.9, 98.7, 98.7, 98.7, 96.2, 91.9, 93.3, 94.9, 97.4,
             99, 84.9, 91.9, 93.8, 88, 61.8, 83.7, 88, 88.7, 96.8, 93, 83.6, 98.7, 99, 96, 86, 86, 93.7, 85, 90.9]


RED = '#d23131'
BLUE = '#3434cc'
GREEN = '#4f9f2a'
MAGENTA = '#ee22ee'
TEAL = '#2a5656'
FS_TICK = 8.0
FS_KEY = 7.8


def fx(x):
    return x / W


def fy(y):
    return 1 - y / H


def key_line(fig, x0, x1, y, **kw):
    fig.add_artist(Line2D([fx(x0), fx(x1)], [fy(y), fy(y)], transform=fig.transFigure, **kw))


def header(fig, top, title, cloud=False):
    y = top - 7.5
    if cloud:
        for x, c, lab in [(29, RED, 'oper'), (87, BLUE, 'control'), (156, '#fbf7a8', '50%'), (214, 'black', 'median')]:
            fig.add_artist(Rectangle((fx(x), fy(y + 4)), 7 / W, 7 / H, transform=fig.transFigure,
                                     facecolor=c, edgecolor='#555555', lw=0.5))
            fig.text(fx(x + 10), fy(y), lab, fontsize=FS_KEY, va='center')
    else:
        key_line(fig, 28, 44, y, color=RED, lw=3)
        fig.text(fx(48), fy(y), 'Oper.', fontsize=FS_KEY, va='center')
        key_line(fig, 99, 115, y, color=BLUE, lw=3)
        fig.text(fx(119), fy(y), 'Controle', fontsize=FS_KEY, va='center')
        key_line(fig, 183, 198, y, color=GREEN, lw=0.8, alpha=0.5)
        fig.text(fx(202), fy(y), 'Leden', fontsize=FS_KEY, va='center')
        key_line(fig, 257, 270, y, color='black', lw=2.2, dashes=(1, 0.8))
        fig.text(fx(276), fy(y), 'gemiddelde', fontsize=FS_KEY, va='center')
        key_line(fig, 355, 370, y, color=MAGENTA, lw=1.6, dashes=(4, 2))
        fig.text(fx(374), fy(y), 'mediaan (middelste waarde)', fontsize=FS_KEY, va='center')
    fig.text(fx(415), fy(y), title, fontsize=10, fontweight='bold', ha='center', va='center')
    fig.text(fx(632), fy(top - 16.5), 'Weerplaza.nl - regio noordoost', fontsize=6.7,
             color='#a8a8a8', ha='right', va='center')
    fig.text(fx(632), fy(top - 6.5), 'Gemaakt: ma 22 dec 09:48', fontsize=6.7,
             color='#a0a0a0', ha='right', va='center')


def make_axes(fig, top, t0, yticks):
    ax = fig.add_axes([fx(30.5), fy(top + 260), (W - 30.5) / W, 260 / H])
    ax.set_xlim(t0, t0 + 354)
    ax.set_ylim(yticks[0], yticks[-1])
    for h in range(0, 370, 6):
        if h % 24 == 0:
            ax.axvline(h, color='#555555', lw=1.0, zorder=1)
        else:
            ax.axvline(h, color='#dcdcdc', lw=1.0, zorder=0)
    for v in yticks:
        ax.axhline(v, color='#dcdcdc', lw=1.0, zorder=0)
    ax.set_yticks(yticks)
    ax.set_xticks([12 + 24 * d for d in range(len(DAYS))], DAYS)
    ax.set_xticks(np.arange(0, 366, 6), minor=True)
    ax.tick_params(axis='both', which='both', labelsize=FS_TICK, length=4, width=0.8, pad=2, direction='out')
    ax.spines['right'].set_visible(False)
    for s in ['left', 'bottom', 'top']:
        ax.spines[s].set_linewidth(1.2)
    return ax


def ensemble_panel(fig, top, title, yticks, leden, median, mean, ctrl, oper):
    header(fig, top, title)
    ax = make_axes(fig, top, 6, yticks)
    for m in leden:
        ax.plot(T, m, color=GREEN, lw=0.9, alpha=0.42, zorder=2)
    ax.plot(T, median, color=MAGENTA, lw=1.6, dashes=(4, 2), zorder=3)
    ax.plot(T, mean, color='black', lw=2.2, dashes=(1, 0.8), zorder=4)
    ax.plot(T, ctrl, color=BLUE, lw=2.5, zorder=5, solid_joinstyle='miter')
    ax.plot(T[:len(oper)], oper, color=RED, lw=2.5, zorder=6, solid_joinstyle='miter')
    return ax


fig = plt.figure(figsize=(W / 100, H / 100), dpi=100)

ax = ensemble_panel(fig, 20.7, 'Temperatuur 2m', list(range(-15, 21, 5)),
                    temp_leden, temp_median, temp_mean, temp_ctrl, temp_oper)
ax.axhline(0, color='black', lw=2.2, zorder=4.5)

ensemble_panel(fig, 320.7, 'Dauwpunt 2m', list(range(-20, 16, 5)),
               dew_leden, dew_median, dew_mean, dew_ctrl, dew_oper)

ensemble_panel(fig, 620.7, 'Neerslag', list(range(0, 13, 2)),
               rain_leden, rain_median, rain_mean, rain_ctrl, rain_oper)

ax = ensemble_panel(fig, 920.7, '10m wind', list(range(0, 23, 2)),
                    wind_leden, wind_median, wind_mean, wind_ctrl, wind_oper)
ax.axhline(20.85, color=TEAL, lw=1.8, dashes=(1, 1.2), zorder=3)
ax.axhline(17.2, color=TEAL, lw=1.8, dashes=(1, 1.2), zorder=3)

ax = ensemble_panel(fig, 1220.7, '10m windstoten', list(range(0, 39, 2)),
                    gust_leden, gust_median, gust_mean, gust_ctrl, gust_oper)
ax.axhline(27.8, color='#ff55ff', lw=1.6, dashes=(3, 2), zorder=3)
ax.axhline(20.8, color=TEAL, lw=1.8, dashes=(1, 1.2), zorder=3)

# bedekkingsgraad
header(fig, 1520, 'Bedekkingsgraad', cloud=True)
ax = make_axes(fig, 1520, 9, list(range(0, 101, 10)))
p25 = np.array(cloud_p25)
p75 = np.array(cloud_p75)
show = p25 < p75
ax.bar(T_CLOUD[show], (p75 - p25)[show], bottom=p25[show], width=4.4, color='#fbf8b2',
       edgecolor='#bdbdbd', linewidth=1.2, zorder=2)
ax.hlines(np.array(cloud_med)[show], T_CLOUD[show] - 2.2, T_CLOUD[show] + 2.2, color='#3a3a2a', lw=1.0, zorder=3)
ax.plot(T_CLOUD, cloud_ctrl, color=BLUE, lw=1.8, zorder=4)
ax.plot(T_CLOUD[:len(cloud_oper)], cloud_oper, color=RED, lw=1.8, zorder=5)
ax.spines['top'].set_linewidth(1.5)

fig.savefig('out.png', dpi=100)
